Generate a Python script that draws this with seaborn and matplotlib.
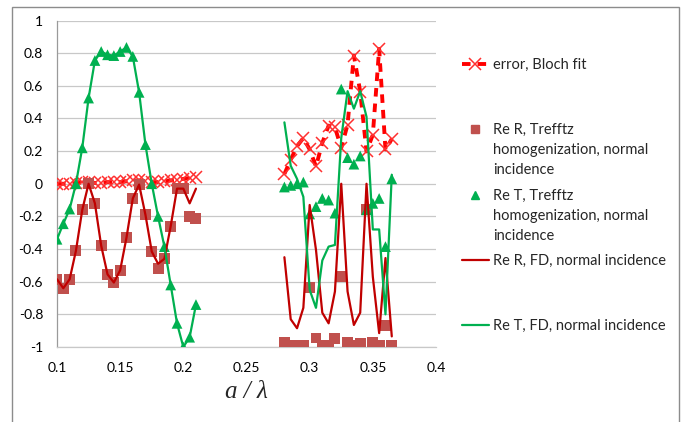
import matplotlib
matplotlib.use('Agg')
import matplotlib.pyplot as plt
import seaborn as sns
import numpy as np
from matplotlib.lines import Line2D
from matplotlib.patches import Rectangle

# Data

x_left = [0.100, 0.105, 0.110, 0.115, 0.120, 0.125, 0.130, 0.135, 0.140, 0.145,
          0.150, 0.155, 0.160, 0.165, 0.170, 0.175, 0.180, 0.185, 0.190, 0.195,
          0.200, 0.205, 0.210]
x_right = [0.280, 0.285, 0.290, 0.295, 0.300, 0.305, 0.310, 0.315, 0.320, 0.325,
           0.330, 0.335, 0.340, 0.345, 0.350, 0.355, 0.360, 0.365]

err_left = [0.0, 0.0, 0.0, 0.005, 0.01, 0.01, 0.005, 0.005, 0.01, 0.01,
            0.01, 0.015, 0.02, 0.02, 0.015, 0.01, 0.01, 0.015, 0.02, 0.025,
            0.03, 0.035, 0.04]
err_right = [0.06, 0.147, 0.23, 0.28, 0.21, 0.106, 0.25, 0.356, 0.345, 0.22,
             0.362, 0.785, 0.565, 0.198, 0.30, 0.826, 0.21, 0.274]

trefftz_R_left = [-0.585, -0.64, -0.585, -0.41, -0.16, 0.0, -0.12, -0.38, -0.555, -0.605,
                  -0.53, -0.33, -0.09, -0.005, -0.19, -0.415, -0.52, -0.46, -0.26, -0.03,
                  -0.03, -0.2, -0.21]
trefftz_R_right = [-0.975, -0.99, -0.99, -0.99, -0.635, -0.945, -0.99, -0.99, -0.95, -0.57,
                   -0.97, -0.99, -0.98, -0.16, -0.975, -0.99, -0.87, -0.99]

trefftz_T_left = [-0.34, -0.245, -0.155, 0.0, 0.22, 0.525, 0.755, 0.81, 0.79, 0.785,
                  0.81, 0.835, 0.78, 0.56, 0.24, 0.0, -0.2, -0.385, -0.62, -0.855,
                  -1.0, -0.94, -0.74]
trefftz_T_right = [-0.02, -0.01, 0.0, 0.01, -0.185, -0.14, -0.09, -0.10, -0.18, 0.58,
                   0.16, 0.12, 0.17, -0.16, -0.12, -0.09, -0.385, 0.03]

fd_R_left = [-0.585, -0.64, -0.585, -0.41, -0.16, 0.0, -0.12, -0.38, -0.555, -0.605,
             -0.53, -0.33, -0.09, -0.005, -0.19, -0.415, -0.49, -0.46, -0.26, -0.03,
             -0.03, -0.12, -0.03]
fd_R_right = [-0.45, -0.83, -0.885, -0.76, -0.13, -0.405, -0.79, -0.855, -0.66, 0.0,
              -0.66, -0.865, -0.79, 0.0, -0.57, -0.915, -0.455, -0.935]

fd_T_left = [-0.34, -0.245, -0.155, 0.0, 0.22, 0.525, 0.755, 0.81, 0.79, 0.785,
             0.81, 0.835, 0.78, 0.56, 0.24, 0.0, -0.2, -0.385, -0.62, -0.855,
             -1.0, -0.94, -0.74]
fd_T_right = [0.376, 0.11, 0.03, -0.08, -0.65, -0.76, -0.47, -0.385, -0.375, 0.28,
              0.567, 0.46, 0.567, 0.41, -0.28, -0.28, -0.8, 0.055]

x_ticks = [0.1, 0.15, 0.2, 0.25, 0.3, 0.35, 0.4]
x_tick_labels = ['0.1', '0.15', '0.2', '0.25', '0.3', '0.35', '0.4']
y_ticks = [-1, -0.8, -0.6, -0.4, -0.2, 0, 0.2, 0.4, 0.6, 0.8, 1]
y_tick_labels = ['-1', '-0.8', '-0.6', '-0.4', '-0.2', '0', '0.2', '0.4', '0.6', '0.8', '1']

# Colours

ERR_RED = '#FF0000'
SQ_RED = '#C0504D'
TRI_GREEN = '#00B050'
FD_RED = '#C00000'
FD_GREEN = '#00B050'
GRID = '#C8C8C8'
AXIS = '#9A9A9A'

# Style

sns.set_style('white')
plt.rcParams['font.family'] = ['Lato', 'DejaVu Sans']

W, H = 692, 422
fig = plt.figure(figsize=(W / 100, H / 100), dpi=100)


def fx(px):
    return px / W


def fy(py):
    return 1 - py / H


ax = fig.add_axes([fx(57), fy(347), fx(436) - fx(57), fy(20.5) - fy(347)])

# Error, Bloch fit

for xs, ys in [(x_left, err_left), (x_right, err_right)]:
    sns.lineplot(
        x=xs,
        y=ys,
        ax=ax,
        color=ERR_RED,
        linewidth=2.8,
        marker='x',
        markersize=8.5,
        markeredgewidth=1.1,
        markeredgecolor='#FF3030',
        sort=False,
        zorder=3
    )
for ln in ax.lines:
    ln.set_dashes((2.2, 1.8))

# Trefftz markers

sns.scatterplot(
    x=x_left + x_right,
    y=trefftz_R_left + trefftz_R_right,
    ax=ax,
    marker='s',
    s=62,
    color=SQ_RED,
    edgecolor='none',
    zorder=4
)

sns.scatterplot(
    x=x_left + x_right,
    y=trefftz_T_left + trefftz_T_right,
    ax=ax,
    marker='^',
    s=60,
    color=TRI_GREEN,
    edgecolor='none',
    zorder=5
)

# FD lines

for xs, ys in [(x_left, fd_R_left), (x_right, fd_R_right)]:
    sns.lineplot(x=xs, y=ys, ax=ax, color=FD_RED, linewidth=1.6, sort=False, zorder=6)

for xs, ys in [(x_left, fd_T_left), (x_right, fd_T_right)]:
    sns.lineplot(x=xs, y=ys, ax=ax, color=FD_GREEN, linewidth=1.6, sort=False, zorder=7)

# Axes

ax.set_xlim(0.1, 0.4)
ax.set_ylim(-1, 1)
ax.set_xticks(x_ticks)
ax.set_xticklabels(x_tick_labels)
ax.set_yticks(y_ticks)
ax.set_yticklabels(y_tick_labels)
ax.yaxis.grid(True, color=GRID, linewidth=0.9)
ax.xaxis.grid(False)
ax.set_axisbelow(True)

for side in ['top', 'right']:
    ax.spines[side].set_visible(False)
ax.spines['left'].set_color(AXIS)
ax.spines['left'].set_linewidth(0.9)
ax.spines['bottom'].set_color(GRID)
ax.spines['bottom'].set_linewidth(0.9)

ax.tick_params(axis='both', direction='out', length=4, width=0.8, color=AXIS,
               labelsize=10, labelcolor='#000000')
ax.tick_params(axis='y', pad=6)
ax.tick_params(axis='x', pad=7)

ax.set_xlabel('a / λ', fontsize=18, family=['Liberation Serif'], style='italic',
              labelpad=5)
ax.set_ylabel('')

# Legend, one entry at a time like the Excel layout

err_handle = Line2D([], [], color=ERR_RED, linewidth=2.8, dashes=(2.2, 1.8),
                    marker='x', markersize=8.5, markeredgewidth=1.1,
                    markeredgecolor='#FF3030')
sq_handle = Line2D([], [], color=SQ_RED, linestyle='none', marker='s', markersize=5.5)
tri_handle = Line2D([], [], color=TRI_GREEN, linestyle='none', marker='^', markersize=5.5)
fdr_handle = Line2D([], [], color=FD_RED, linewidth=1.6)
fdt_handle = Line2D([], [], color=FD_GREEN, linewidth=1.6)

entries = [
    (err_handle, 'error, Bloch fit', [], 65),
    (sq_handle, 'Re R, Trefftz', ['homogenization, normal', 'incidence'], 130),
    (tri_handle, 'Re T, Trefftz', ['homogenization, normal', 'incidence'], 196),
    (fdr_handle, 'Re R, FD, normal incidence', [], 261),
    (fdt_handle, 'Re T, FD, normal incidence', [], 326),
]

for handle, first, rest, ypix in entries:
    fig.legend(
        handles=[handle],
        labels=[first],
        loc='center left',
        bbox_to_anchor=(fx(462), fy(ypix)),
        frameon=False,
        fontsize=10.5,
        handlelength=1.85,
        handletextpad=0.28,
        borderpad=0,
        borderaxespad=0,
        numpoints=1
    )
    for i, line in enumerate(rest):
        fig.text(fx(493), fy(ypix + 20 * (i + 1)), line, fontsize=10.5, va='center')

# Chart area border

fig.add_artist(Rectangle((fx(12), -0.01), fx(679) - fx(12), fy(7) + 0.01,
                         transform=fig.transFigure, fill=False,
                         edgecolor='#8C8C8C', linewidth=1.0))

plt.savefig('out.png', dpi=100)
